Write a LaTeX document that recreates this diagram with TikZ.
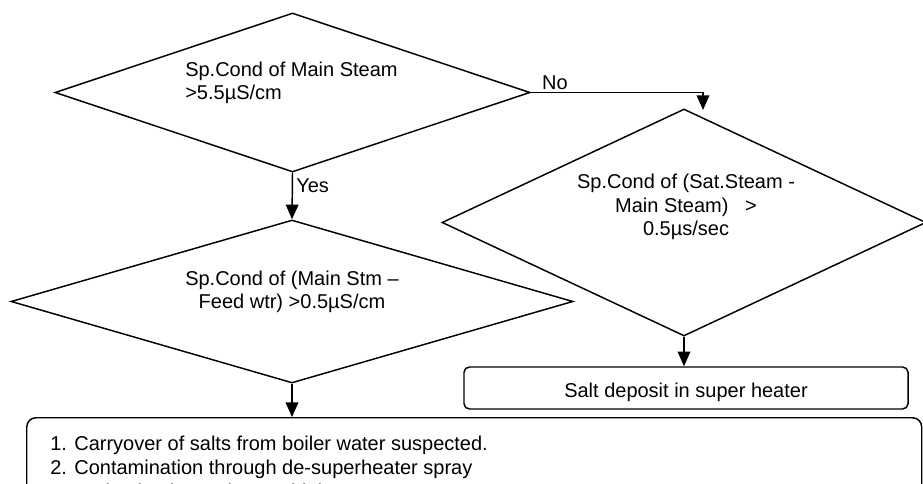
\documentclass[tikz,border=0pt]{standalone}
\usepackage{fontspec}
\setmainfont{Liberation Sans}
\usetikzlibrary{shapes.geometric,arrows.meta,calc}
\begin{document}
\begin{tikzpicture}[x=0.75pt,y=-0.75pt,
  every node/.style={font=\fontsize{15pt}{17.6pt}\selectfont, inner sep=0pt},
  decision/.style={diamond, draw, line width=1.1pt, inner sep=0pt},
  roundbox/.style={draw, line width=1.1pt},
  arr/.style={line width=1.1pt, -{Triangle[length=11pt,width=9.5pt]}}]
\useasboundingbox (0,0) rectangle (923,484);
\clip (0,0) rectangle (923,484);
% decisions
\node[decision, minimum width=356.25pt, minimum height=119.25pt] (d1) at (292.5,92.5) {};
\node[anchor=west, align=left] (t1) at (185,83) {Sp.Cond of Main Steam\\>5.5µS/cm};
\node[decision, minimum width=363pt, minimum height=170.25pt] (d3) at (684,222.5) {};
\node[align=center] (t3) at (686,207) {Sp.Cond of (Sat.Steam -\\Main Steam)\hspace{0.834em}>\\0.5µs/sec};
\node[decision, minimum width=421.5pt, minimum height=122.25pt] (d2) at (292,301.5) {};
\node[align=center] (t2) at (292,292) {Sp.Cond of (Main Stm –\\Feed wtr) >0.5µS/cm};
% boxes
\node[roundbox, rounded corners=4pt, minimum width=333pt, minimum height=31.5pt] (salt) at (686,388) {};
\node (salttxt) at (686,392) {Salt deposit in super heater};
\node[roundbox, rounded corners=7pt, anchor=north west, minimum width=671.25pt, minimum height=100pt] (res) at (26,417) {};
\node[anchor=north west, align=left, font=\fontsize{15pt}{18pt}\selectfont] (restxt) at (50,435.5)
  {1. Carryover of salts from boiler water suspected.\\2. Contamination through de-superheater spray\\3. Hydrazine in FW is very high};
% connectors
\coordinate (noend) at (703,110);
\draw[arr] (d1.east) -| (noend);
\node (no) at (555,83) {No};
\draw[arr] (d1.south) -- (d2.north);
\node[anchor=west] (yes) at (296,186) {Yes};
\draw[arr] (d3.south) -- (d3.south |- salt.north);
\draw[arr] (d2.south) -- (d2.south |- res.north);
\end{tikzpicture}
\end{document}
